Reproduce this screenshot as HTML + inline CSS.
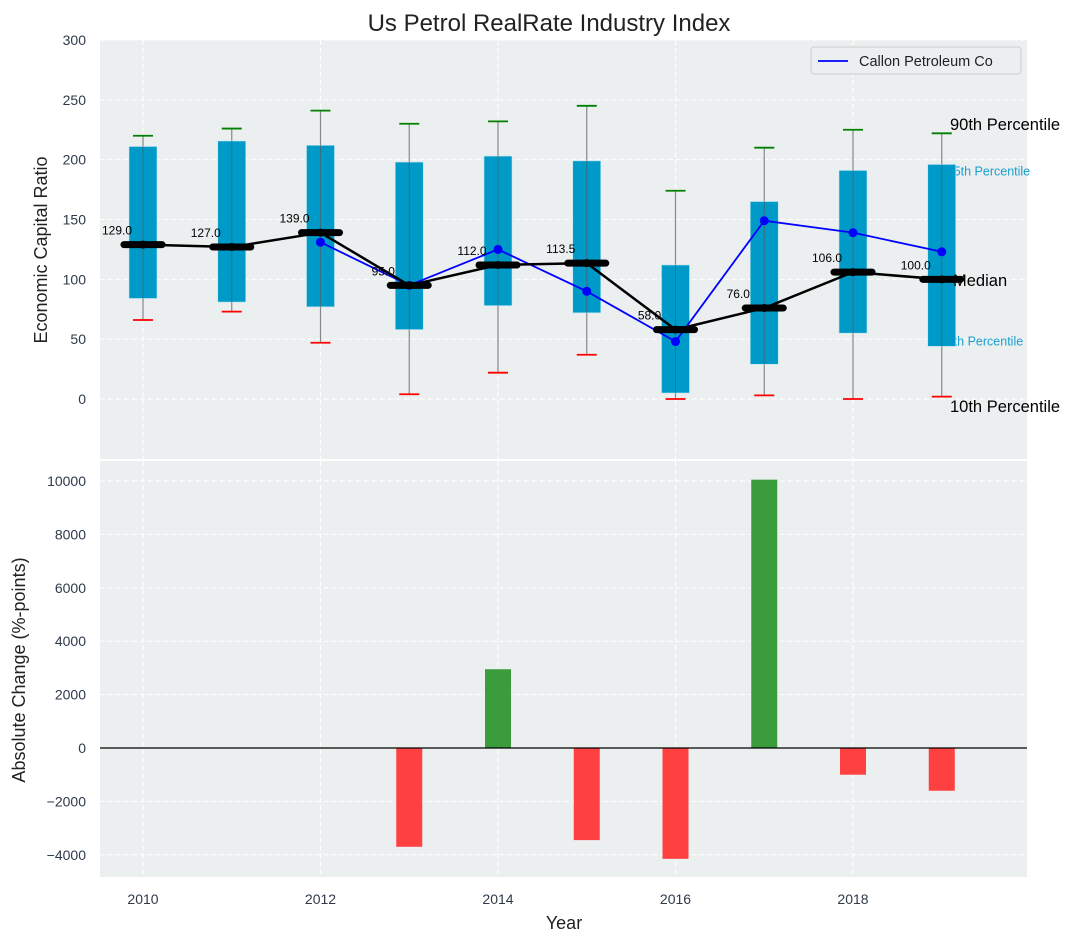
<!DOCTYPE html>
<html><head><meta charset="utf-8"><style>body{margin:0;background:#fff}svg{font-family:"Liberation Sans","DejaVu Sans",sans-serif}</style></head>
<body>
<svg id="c" width="1085" height="942" xmlns="http://www.w3.org/2000/svg"></svg>
<script>
const years=[2010,2011,2012,2013,2014,2015,2016,2017,2018,2019];
const boxTop=[211,215.6,212,198,203,199,112,165,191,196];
const boxBot=[84,81,77,58,78,72,5,29,55,44];
const whiskTop=[220,226,241,230,232,245,174,210,225,222];
const whiskBot=[66,73,47,4,22,37,0,3,0,2];
const medians=[129,127,139,95,112,113.5,58,76,106,100];
const callon=[null,null,131,95,125,90,48,149,139,123];
const changeYears=[2013,2014,2015,2016,2017,2018,2019];
const changes=[-3700,2950,-3450,-4150,10050,-1000,-1600];
const topTicks=[0,50,100,150,200,250,300];
const botTicks=[-4000,-2000,0,2000,4000,6000,8000,10000];
const xTicks=[2010,2012,2014,2016,2018];

const svg=document.getElementById('c');const NS='http://www.w3.org/2000/svg';
function el(t,a,p){const e=document.createElementNS(NS,t);for(const k in a)e.setAttribute(k,a[k]);(p||svg).appendChild(e);return e;}
function tx(s,a,name){const e=el('text',a);e.textContent=s;return e;}
const L=100,R=1027;
const X=v=>143+(v-2010)*88.75;
const Y1=v=>399-v*1.1967;
const Y2=v=>748-v*0.0267;
let r=el('rect',{x:L,y:40,width:R-L,height:419,fill:'#ebeff0'});

r=el('rect',{x:L,y:461,width:R-L,height:416,fill:'#ebeff0'});

const tc='#2e3a4a';
topTicks.forEach(t=>{el('line',{x1:L,x2:R,y1:Y1(t),y2:Y1(t),stroke:'#fff','stroke-dasharray':'5,3'});
 tx(String(t),{x:L-14,y:Y1(t)+5,'text-anchor':'end','font-size':14,fill:tc},'y-tick-label');});
botTicks.forEach(t=>{el('line',{x1:L,x2:R,y1:Y2(t),y2:Y2(t),stroke:'#fff','stroke-dasharray':'5,3'});
 tx(t<0?'\u2212'+(-t):String(t),{x:L-14,y:Y2(t)+5,'text-anchor':'end','font-size':14,fill:tc},'y-tick-label');});
xTicks.forEach(t=>{el('line',{x1:X(t),x2:X(t),y1:40,y2:459,stroke:'#fff','stroke-dasharray':'5,3'});
 el('line',{x1:X(t),x2:X(t),y1:461,y2:877,stroke:'#fff','stroke-dasharray':'5,3'});
 tx(String(t),{x:X(t),y:904,'text-anchor':'middle','font-size':14,fill:tc},'x-tick-label');});
const last=years.length-1;
tx('95th Percentile',{x:X(years[last])+5,y:Y1(boxTop[last])+11,'font-size':12.5,fill:'#1a9fd0'},'p95-label');
tx('5th Percentile',{x:X(years[last])+5,y:Y1(boxBot[last])-1,'font-size':12.5,fill:'#1a9fd0'},'p5-label');
years.forEach((y,i)=>{const x=X(y);
 el('line',{x1:x,x2:x,y1:Y1(whiskTop[i]),y2:Y1(whiskBot[i]),stroke:'#888','stroke-width':1.2});
 const b=el('rect',{x:x-14,y:Y1(boxTop[i]),width:28,height:Y1(boxBot[i])-Y1(boxTop[i]),fill:'#009ac9',stroke:'#bfe4f0','stroke-width':0.6});
 
 el('line',{x1:x,x2:x,y1:Y1(boxTop[i]),y2:Y1(boxBot[i]),stroke:'#555','stroke-width':1,opacity:0.6});
 el('line',{x1:x-10,x2:x+10,y1:Y1(whiskTop[i]),y2:Y1(whiskTop[i]),stroke:'green','stroke-width':1.8});
 el('line',{x1:x-10,x2:x+10,y1:Y1(whiskBot[i]),y2:Y1(whiskBot[i]),stroke:'red','stroke-width':1.8});
});
let pts=[];years.forEach((y,i)=>{if(callon[i]!=null)pts.push(X(y)+','+Y1(callon[i]));});
let pl=el('polyline',{points:pts.join(' '),fill:'none',stroke:'blue','stroke-width':1.8});

years.forEach((y,i)=>{if(callon[i]!=null){const c=el('circle',{cx:X(y),cy:Y1(callon[i]),r:4.5,fill:'blue'});
 }});
pl=el('polyline',{points:years.map((y,i)=>X(y)+','+Y1(medians[i])).join(' '),fill:'none',stroke:'#000','stroke-width':2.5});

years.forEach((y,i)=>{const x=X(y),yy=Y1(medians[i]);
 const m=el('line',{x1:x-19,x2:x+19,y1:yy,y2:yy,stroke:'#000','stroke-width':7,'stroke-linecap':'round'});
 
 el('circle',{cx:x,cy:yy,r:4,fill:'#000'});
 tx(medians[i].toFixed(1),{x:x-26,y:yy-10,'text-anchor':'middle','font-size':12,fill:'#000'},'median-value-label');});
tx('90th Percentile',{x:950,y:130,'font-size':16.5,fill:'#000'},'p90-label');
tx('Median',{x:953,y:286,'font-size':16.5,fill:'#000'},'median-label');
tx('10th Percentile',{x:950,y:412,'font-size':16.5,fill:'#000'},'p10-label');
const lg=el('g',{});
el('rect',{x:811,y:47,width:210,height:27,fill:'#ebeff0',stroke:'#ccc',rx:3},lg);
el('line',{x1:818,x2:848,y1:61,y2:61,stroke:'blue','stroke-width':1.8},lg);
tx('Callon Petroleum Co',{x:859,y:66,'font-size':14.5,fill:'#222'},'legend-entry');
changeYears.forEach((y,i)=>{const v=changes[i];const b=el('rect',{x:X(y)-13,y:Math.min(Y2(v),Y2(0)),width:26,height:Math.abs(Y2(v)-Y2(0)),fill:v>=0?'#3a9c3a':'#ff4040'});
 });
el('line',{x1:L,x2:R,y1:Y2(0),y2:Y2(0),stroke:'#000','stroke-width':1.2});
tx('Us Petrol RealRate Industry Index',{x:549,y:31,'text-anchor':'middle','font-size':24,fill:'#222'},'chart-title');
tx('Economic Capital Ratio',{x:47,y:250,'text-anchor':'middle','font-size':18,fill:'#222',transform:'rotate(-90 47 250)'},'y-axis-title-top');
tx('Absolute Change (%-points)',{x:25,y:670,'text-anchor':'middle','font-size':18,fill:'#222',transform:'rotate(-90 25 670)'},'y-axis-title-bottom');
tx('Year',{x:564,y:929,'text-anchor':'middle','font-size':18,fill:'#222'},'x-axis-title');
</script>
</body></html>
